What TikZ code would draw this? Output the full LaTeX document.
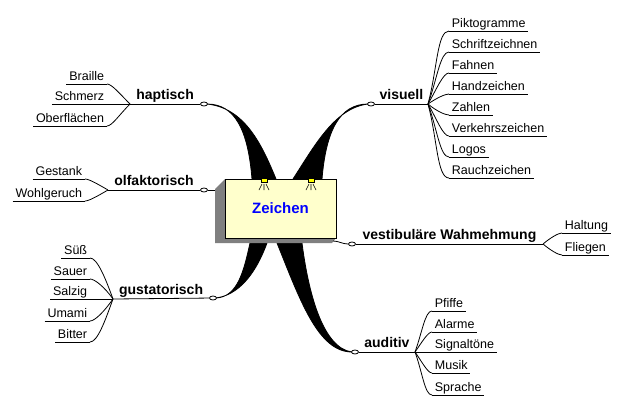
\documentclass[tikz,border=0pt]{standalone}
\usepackage{fontspec}
\setmainfont{Liberation Sans}
\usetikzlibrary{shapes,calc}
\definecolor{boxyellow}{RGB}{255,255,204}
\definecolor{boxgray}{RGB}{128,128,128}
\definecolor{lampyellow}{RGB}{255,255,0}
\definecolor{zblue}{RGB}{0,0,255}
\tikzstyle{leaf}=[font=\fontsize{12.5}{14}\selectfont,inner xsep=2.5pt,inner ysep=0.5pt,text height=9pt,text depth=2.5pt,append after command={(\tikzlastnode.south west) edge (\tikzlastnode.south east)}]
\tikzstyle{leafR}=[leaf,anchor=south west]
\tikzstyle{leafL}=[leaf,anchor=south east]
\tikzstyle{branch}=[font=\bfseries\fontsize{14}{16}\selectfont,inner sep=0pt,anchor=base,yshift=4.5pt]
\tikzstyle{knot}=[ellipse,draw,fill=white,minimum width=7pt,minimum height=4pt,inner sep=0pt]
\tikzstyle{twig}=[out looseness=1.2,in looseness=0.4]
\tikzstyle{stem}=[fill=black,draw=black]

\begin{document}
\begin{tikzpicture}[x=1pt,y=-1pt,line width=0.8pt]
\useasboundingbox (0,0) rectangle (626,416);

% hubs, where the leaves fan out
\coordinate (hHap) at (130,104);
\coordinate (hOlf) at (108,190);
\coordinate (hGus) at (113,299);
\coordinate (hVis) at (428,104);
\coordinate (hVes) at (543,244);
\coordinate (hAud) at (415,352);

\coordinate (boxL) at (215,190);
\coordinate (boxR) at (333,241);

% stems from the box
\filldraw[stem] (252,179) .. controls (248,130) and (235,104) .. (207,104)
  .. controls (245,108) and (262,145) .. (276,179) -- cycle;
\filldraw[stem] (322,179) .. controls (326,130) and (340,104) .. (368,104)
  .. controls (335,108) and (315,145) .. (293,179) -- cycle;
\filldraw[stem] (250,243) .. controls (244,270) and (238,297) .. (216,298)
  .. controls (245,294) and (260,262) .. (267,243) -- cycle;
\filldraw[stem] (277,243) .. controls (300,300) and (318,352) .. (352,352)
  .. controls (322,348) and (308,290) .. (302,243) -- cycle;

% the box
\fill[boxgray] (225,179) -- (215,189) -- (215,243) -- (332,243) -- (336,238) -- cycle;
\node[draw,fill=boxyellow,minimum width=111pt,minimum height=59pt,inner sep=0pt,
  font=\bfseries\fontsize{15}{18}\selectfont,text=zblue] (zeichen) at (280.5,208.5) {Zeichen};
\foreach \lx in {264,311}{
  \filldraw[fill=lampyellow,draw=black,line width=0.6pt] (\lx-3,178) rectangle (\lx+3,182);
  \draw[line width=0.6pt] (\lx-2,184) -- (\lx-5,190) (\lx,184) -- (\lx,190) (\lx+2,184) -- (\lx+5,190);
}

% knots
\node[knot] (kHap) at (204,104) {};
\node[knot] (kOlf) at (204,190) {};
\node[knot] (kGus) at (213,298) {};
\node[knot] (kVis) at (371,104) {};
\node[knot] (kVes) at (352,244) {};
\node[knot] (kAud) at (355,352) {};

% leaves
\node[leafL] (braille) at (107,84) {Braille};
\node[leafL] (schmerz) at (107,104) {Schmerz};
\node[leafL] (oberfl) at (107,126) {Oberflächen};

\node[leafL] (gestank) at (85,179) {Gestank};
\node[leafL] (wohl) at (85,201) {Wohlgeruch};

\node[leafL] (suess) at (90,258) {Süß};
\node[leafL] (sauer) at (90,279) {Sauer};
\node[leafL] (salzig) at (90,299) {Salzig};
\node[leafL] (umami) at (90,321) {Umami};
\node[leafL] (bitter) at (90,342) {Bitter};

\node[leafR] (pikto) at (449,31) {Piktogramme};
\node[leafR] (schrift) at (449,52) {Schriftzeichnen};
\node[leafR] (fahnen) at (449,73) {Fahnen};
\node[leafR] (hand) at (449,94) {Handzeichen};
\node[leafR] (zahlen) at (449,115) {Zahlen};
\node[leafR] (verkehr) at (449,136) {Verkehrszeichen};
\node[leafR] (logos) at (449,157) {Logos};
\node[leafR] (rauch) at (449,178) {Rauchzeichen};

\node[leafR] (haltung) at (562,233) {Haltung};
\node[leafR] (fliegen) at (562,255) {Fliegen};

\node[leafR] (pfiffe) at (432,311) {Pfiffe};
\node[leafR] (alarme) at (432,332) {Alarme};
\node[leafR] (signal) at (432,352) {Signaltöne};
\node[leafR] (musik) at (432,373) {Musik};
\node[leafR] (sprache) at (432,395) {Sprache};

\path
(kHap) edge node[branch] {haptisch} (hHap)
(kOlf) edge node[branch] {olfaktorisch} (hOlf)
(kGus) edge node[branch] {gustatorisch} (hGus)
(kVis) edge node[branch] {visuell} (hVis)
(kVes) edge node[branch] {vestibuläre Wahmehmung} (hVes)
(kAud) edge node[branch] {auditiv} (hAud)

(kOlf) edge (boxL)
(boxR) edge [out=0,in=180] (kVes)

(hHap) edge [twig,out=135,in=0] (braille.south east)
(hHap) edge (schmerz.south east)
(hHap) edge [twig,out=-135,in=0] (oberfl.south east)

(hOlf) edge [twig,out=150,in=0] (gestank.south east)
(hOlf) edge [twig,out=-150,in=0] (wohl.south east)

(hGus) edge [twig,out=110,in=0] (suess.south east)
(hGus) edge [twig,out=125,in=0] (sauer.south east)
(hGus) edge (salzig.south east)
(hGus) edge [twig,out=-125,in=0] (umami.south east)
(hGus) edge [twig,out=-110,in=0] (bitter.south east)

(hVis) edge [twig,out=75,in=180] (pikto.south west)
(hVis) edge [twig,out=70,in=180] (schrift.south west)
(hVis) edge [twig,out=60,in=180] (fahnen.south west)
(hVis) edge [twig,out=35,in=180] (hand.south west)
(hVis) edge [twig,out=-40,in=180] (zahlen.south west)
(hVis) edge [twig,out=-60,in=180] (verkehr.south west)
(hVis) edge [twig,out=-70,in=180] (logos.south west)
(hVis) edge [twig,out=-75,in=180] (rauch.south west)

(hVes) edge [twig,out=40,in=180] (haltung.south west)
(hVes) edge [twig,out=-40,in=180] (fliegen.south west)

(hAud) edge [twig,out=70,in=180] (pfiffe.south west)
(hAud) edge [twig,out=55,in=180] (alarme.south west)
(hAud) edge (signal.south west)
(hAud) edge [twig,out=-55,in=180] (musik.south west)
(hAud) edge [twig,out=-70,in=180] (sprache.south west);

\end{tikzpicture}
\end{document}
